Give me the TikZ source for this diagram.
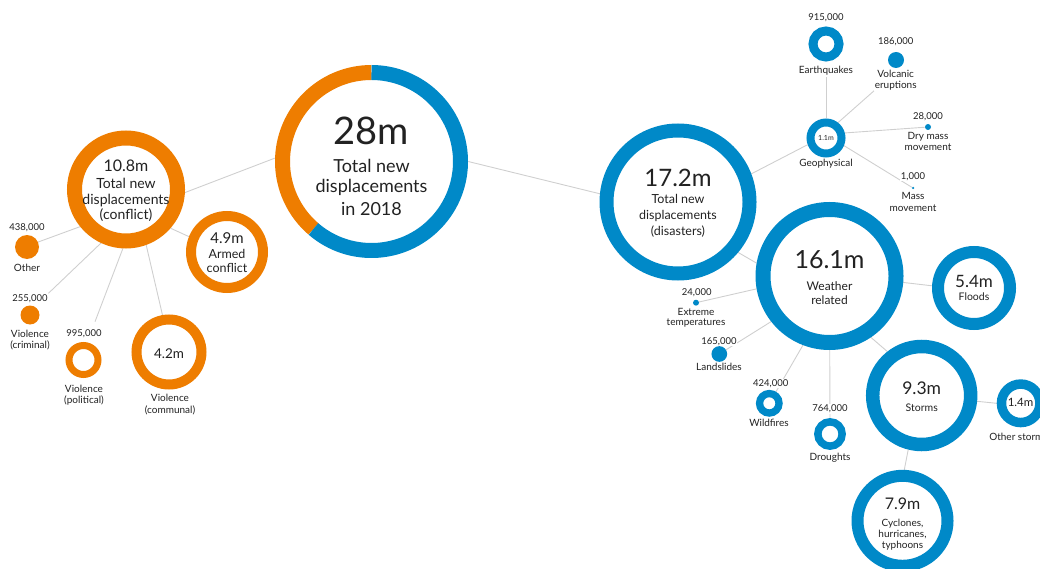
\documentclass[tikz,border=0pt]{standalone}
\usepackage{fontspec}
\setmainfont{Lato}
\usetikzlibrary{backgrounds}
\definecolor{cor}{HTML}{EE7D00}
\definecolor{cbl}{HTML}{0089C8}
\definecolor{cln}{HTML}{CFCFCF}
\definecolor{ctx}{HTML}{222222}
\tikzset{
  ring/.style n args={3}{circle, inner sep=0pt, fill=white, draw=#3, line width=#2, minimum size=#1},
  dot/.style n args={2}{circle, inner sep=0pt, fill=#2, minimum size=#1},
  conn/.style={draw=cln, line width=0.9pt},
  tin/.style={inner sep=0pt, text=ctx, anchor=base, font=\fontsize{#1}{#1}\selectfont},
  labn/.style={fill=white, inner sep=0.6pt, text=ctx, anchor=base, font=\fontsize{9.5}{11}\selectfont},
  labt/.style={fill=white, inner sep=0.6pt, text=ctx, anchor=base, font=\fontsize{10}{12}\selectfont},
}
\begin{document}
\begin{tikzpicture}[x=1pt,y=1pt]
\useasboundingbox (0,0) rectangle (1040,-569);
\clip (0,0) rectangle (1040,-569);

% ---------- main total ----------
\node[circle, inner sep=0pt, fill=white, minimum size=193pt] (total) at (371.5,-161.5) {};
\draw[cor, line width=15pt] (total.center) ++(90:89pt) arc[start angle=90, end angle=229.3, radius=89pt];
\draw[cbl, line width=15pt] (total.center) ++(229.3:89pt) arc[start angle=229.3, end angle=450, radius=89pt];

% ---------- conflict side ----------
\node[ring={103pt}{15pt}{cor}] (conflict) at (126,-189.5) {};
\node[ring={72pt}{10pt}{cor}] (armed) at (227,-252) {};
\node[ring={65pt}{10pt}{cor}] (communal) at (169,-352) {};
\node[ring={29pt}{7pt}{cor}] (political) at (83.5,-360) {};
\node[dot={24pt}{cor}] (other) at (27,-247) {};
\node[dot={19pt}{cor}] (criminal) at (30,-315) {};

% ---------- disaster side ----------
\node[ring={143pt}{14pt}{cbl}] (disasters) at (678,-202) {};
\node[ring={31pt}{8pt}{cbl}] (geo) at (826,-138) {};
\node[ring={26pt}{9pt}{cbl}] (earth) at (826,-44) {};
\node[dot={16pt}{cbl}] (volcanic) at (896,-60) {};
\node[dot={6pt}{cbl}] (drymass) at (928,-127) {};
\node[dot={2.5pt}{cbl}] (mass) at (913,-188) {};
\node[ring={133pt}{15pt}{cbl}] (weather) at (829.5,-276) {};
\node[ring={72pt}{12pt}{cbl}] (floods) at (974,-288) {};
\node[ring={98pt}{13.5pt}{cbl}] (storms) at (921.7,-395.5) {};
\node[ring={38.5pt}{9.5pt}{cbl}] (otherst) at (1020.7,-403.3) {};
\node[ring={90pt}{12pt}{cbl}] (cyclones) at (902.5,-520.8) {};
\node[dot={6pt}{cbl}] (extreme) at (696,-302.7) {};
\node[dot={15.7pt}{cbl}] (landslides) at (719.3,-354) {};
\node[ring={19.5pt}{7.3pt}{cbl}] (wildfires) at (769.3,-403.3) {};
\node[ring={24.3pt}{7.5pt}{cbl}] (droughts) at (830,-434) {};

% ---------- texts inside circles ----------
\node[tin=38] (t28) at (371.5,-145) {28m};
\node[tin=18] (t28a) at (371.5,-172.7) {Total new};
\node[tin=18] (t28b) at (371.5,-192.7) {displacements};
\node[tin=18] (t28c) at (371.5,-215) {in 2018};

\node[tin=16] (tcf) at (126,-171.7) {10.8m};
\node[tin=14] (tcfa) at (126,-188.3) {Total new};
\node[tin=14] (tcfb) at (126,-204.5) {displacements};
\node[tin=14] (tcfc) at (126,-219.5) {(conflict)};

\node[tin=15] (tar) at (227,-243.3) {4.9m};
\node[tin=12.5] (tara) at (227,-258.3) {Armed};
\node[tin=12.5] (tarb) at (227,-272.7) {conflict};

\node[tin=13.5] (tcm) at (169,-358.3) {4.2m};

\node[tin=24] (tds) at (678,-186.7) {17.2m};
\node[tin=12.5] (tdsa) at (678,-204) {Total new};
\node[tin=12.5] (tdsb) at (678,-220) {displacements};
\node[tin=12.5] (tdsc) at (678,-235.5) {(disasters)};

\node[tin=7] (tgeo) at (826,-141) {1.1m};

\node[tin=25] (twe) at (829.5,-268.3) {16.1m};
\node[tin=12] (twea) at (829.5,-290.7) {Weather};
\node[tin=12] (tweb) at (829.5,-304) {related};

\node[tin=17] (tfl) at (974,-287.3) {5.4m};
\node[tin=10.5] (tfla) at (974,-300) {Floods};

\node[tin=17.5] (tst) at (921.7,-394) {9.3m};
\node[tin=10.5] (tsta) at (921.7,-411.7) {Storms};

\node[tin=11.5] (tos) at (1020.5,-406.7) {1.4m};

\node[tin=16] (tcy) at (902.5,-509) {7.9m};
\node[tin=10] (tcya) at (902.5,-526) {Cyclones,};
\node[tin=10] (tcyb) at (902.5,-537.3) {hurricanes,};
\node[tin=10] (tcyc) at (902.5,-548.3) {typhoons};

% ---------- outside labels ----------
\node[labn] (othn) at (27,-230.7) {438,000};
\node[labt] (othl) at (27,-271.7) {Other};
\node[labn] (crimn) at (30,-301) {255,000};
\node[labt] (criml1) at (30,-337.3) {Violence};
\node[labt] (criml2) at (30,-348.3) {(criminal)};
\node[labn] (poln) at (84,-336.7) {995,000};
\node[labt] (poll1) at (84,-392.3) {Violence};
\node[labt] (poll2) at (84,-403.5) {(political)};
\node[labt] (coml1) at (170,-401.7) {Violence};
\node[labt] (coml2) at (170,-413) {(communal)};

\node[labt] (geol) at (826,-166.7) {Geophysical};
\node[labn] (earthn) at (826,-20.7) {915,000};
\node[labt] (earthl) at (826,-74) {Earthquakes};
\node[labn] (volcn) at (895.7,-45) {186,000};
\node[labt] (volcl1) at (895.7,-77.3) {Volcanic};
\node[labt] (volcl2) at (895.7,-88.3) {eruptions};
\node[labn] (dryn) at (928,-119.3) {28,000};
\node[labt] (dryl1) at (928,-139.3) {Dry mass};
\node[labt] (dryl2) at (928,-150.3) {movement};
\node[labn] (massn) at (913,-179.3) {1,000};
\node[labt] (massl1) at (913,-200) {Mass};
\node[labt] (massl2) at (913,-211.7) {movement};

\node[labt] (osl) at (1018.5,-440) {Other storms};
\node[labn] (extn) at (696.7,-295) {24,000};
\node[labt] (extl1) at (696,-315) {Extreme};
\node[labt] (extl2) at (696,-325.5) {temperatures};
\node[labn] (landn) at (719,-344) {165,000};
\node[labt] (landl) at (719,-370.7) {Landslides};
\node[labn] (wildn) at (770.7,-386) {424,000};
\node[labt] (wildl) at (769,-426.7) {Wildfires};
\node[labn] (drn) at (830,-411.7) {764,000};
\node[labt] (drl) at (830,-460) {Droughts};

\coordinate (polend) at (95,-321.7);

% ---------- connectors ----------
\begin{scope}[on background layer]
\draw[conn] (total.178.8) -- (conflict.-3.4);
\draw[conn] (total.-0.6) -- (disasters.174.8);
\draw[conn] (conflict.219.5) -- (other.24);
\draw[conn] (conflict.245.5) -- (crimn.north east);
\draw[conn] (conflict.267.6) -- (polend);
\draw[conn] (conflict.290.8) -- (communal.100.7);
\draw[conn] (conflict.319.4) -- (armed.158.3);

\draw[conn] (disasters.21.5) -- (geo.200);
\draw[conn] (geo.north) -- (earthl.south);
\draw[conn] (geo.52) -- (volcl2.south west);
\draw[conn] (geo.15) -- (drymass);
\draw[conn] (geo.-23.5) -- (mass);

\draw[conn] (disasters.-40.4) -- (weather.170);
\draw[conn] (weather.190.6) -- (extreme);
\draw[conn] (weather.218) -- (landslides);
\draw[conn] (weather.249.7) -- (wildfires);
\draw[conn] (weather) -- (droughts);
\draw[conn] (weather.-5.6) -- (floods.177);
\draw[conn] (weather.-56.7) -- (storms.128.2);
\draw[conn] (storms.-6.4) -- (otherst.180);
\draw[conn] (storms.256.4) -- (cyclones.88);
\end{scope}
\end{tikzpicture}
\end{document}
